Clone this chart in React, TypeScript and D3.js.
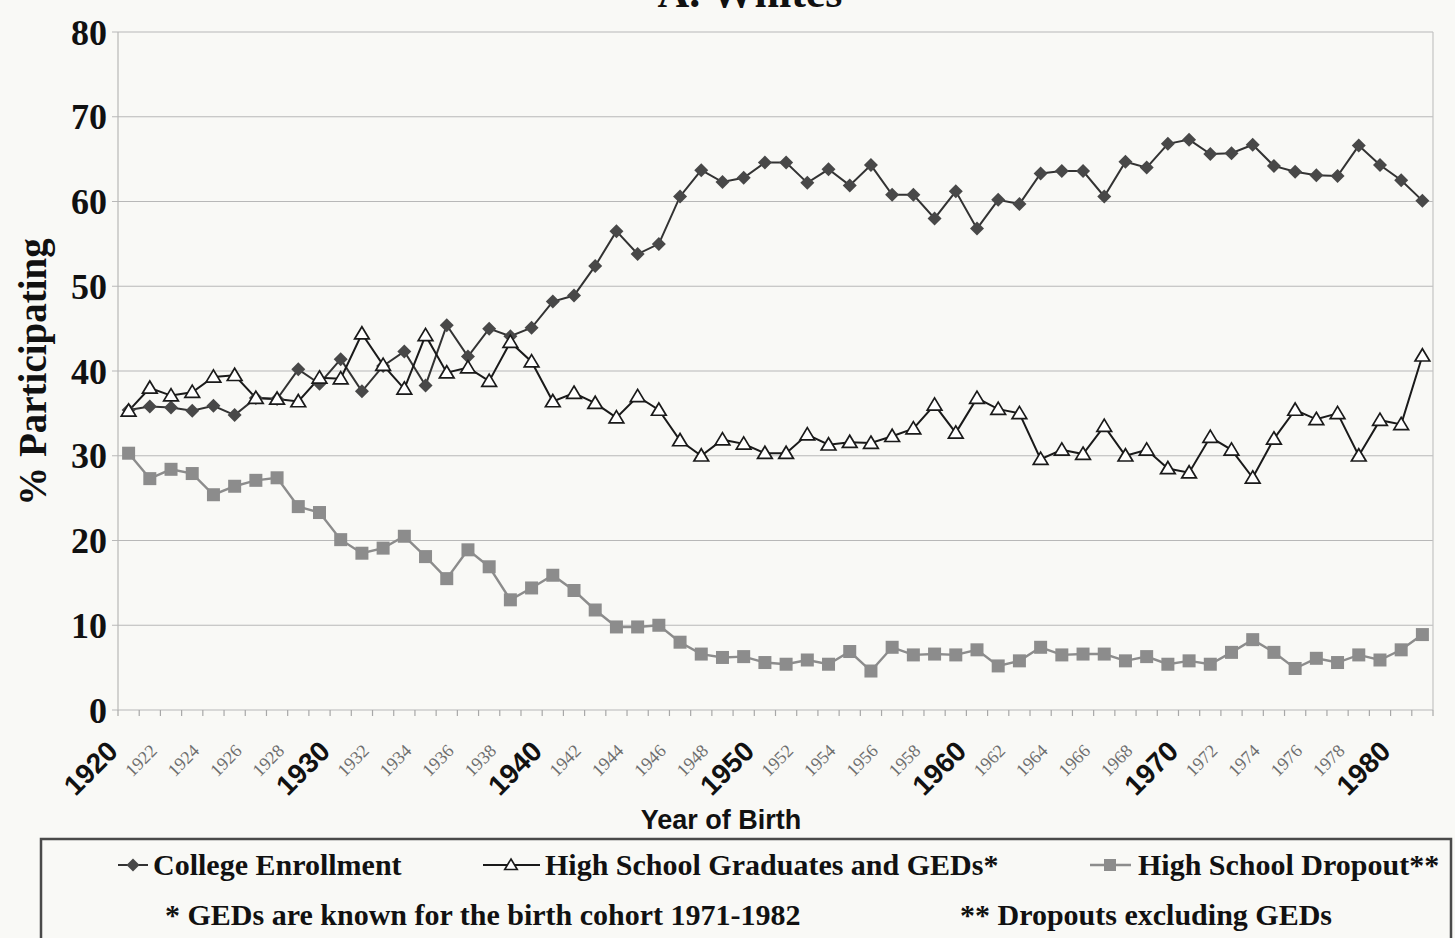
import React from "react";
import * as d3 from "d3";

const years: number[] = Array.from({ length: 62 }, (_, i) => 1920 + i);

const collegeEnrollment: number[] = [
  35.4, 35.8, 35.7, 35.3, 35.9, 34.8, 36.8, 36.7, 40.2, 38.5,
  41.4, 37.6, 40.6, 42.3, 38.3, 45.4, 41.7, 45.0, 44.1, 45.1,
  48.2, 48.9, 52.4, 56.5, 53.8, 55.0, 60.6, 63.7, 62.3, 62.8,
  64.6, 64.6, 62.2, 63.8, 61.9, 64.3, 60.8, 60.8, 58.0, 61.2,
  56.8, 60.2, 59.7, 63.3, 63.6, 63.6, 60.6, 64.7, 64.0, 66.8,
  67.3, 65.6, 65.7, 66.7, 64.2, 63.5, 63.1, 63.0, 66.6, 64.3,
  62.5, 60.1,
];

const hsGraduates: number[] = [
  35.3, 38.0, 37.1, 37.5, 39.3, 39.5, 36.8, 36.7, 36.4, 39.2,
  39.1, 44.4, 40.7, 37.9, 44.2, 39.8, 40.4, 38.8, 43.4, 41.1,
  36.4, 37.4, 36.2, 34.5, 37.0, 35.4, 31.8, 30.0, 31.9, 31.4,
  30.3, 30.3, 32.5, 31.3, 31.6, 31.5, 32.3, 33.2, 36.0, 32.7,
  36.8, 35.5, 35.0, 29.6, 30.7, 30.2, 33.5, 30.0, 30.7, 28.5,
  28.0, 32.2, 30.7, 27.4, 32.0, 35.4, 34.3, 35.0, 30.0, 34.2,
  33.7, 41.8,
];

const hsDropout: number[] = [
  30.3, 27.3, 28.4, 27.9, 25.4, 26.4, 27.1, 27.4, 24.0, 23.3,
  20.1, 18.5, 19.1, 20.5, 18.1, 15.5, 18.9, 16.9, 13.0, 14.4,
  15.9, 14.1, 11.8, 9.8, 9.8, 10.0, 8.0, 6.6, 6.2, 6.3,
  5.6, 5.4, 5.9, 5.4, 6.9, 4.6, 7.4, 6.5, 6.6, 6.5,
  7.1, 5.2, 5.8, 7.4, 6.5, 6.6, 6.6, 5.8, 6.3, 5.4,
  5.8, 5.4, 6.8, 8.3, 6.8, 4.9, 6.1, 5.6, 6.5, 5.9,
  7.1, 8.9,
];

const yTicks: number[] = [0, 10, 20, 30, 40, 50, 60, 70, 80];

const legendItems: string[] = [
  "College Enrollment",
  "High School Graduates and GEDs*",
  "High School Dropout**",
];
const footnotes: string[] = [
  "* GEDs are known for the birth cohort 1971-1982",
  "** Dropouts excluding GEDs",
];

const SERIF = "'Liberation Serif', 'Times New Roman', serif";
const SANS = "'Liberation Sans', Arial, sans-serif";
const BG = "#f9f9f6";

const diamond = (cx: number, cy: number, r: number) =>
  `M${cx},${cy - r}L${cx + r},${cy}L${cx},${cy + r}L${cx - r},${cy}Z`;
const triangle = (cx: number, cy: number, r: number) =>
  `M${cx},${cy - r}L${cx + r * 1.05},${cy + r * 0.75}L${cx - r * 1.05},${cy + r * 0.75}Z`;

export default function App() {
  const W = 1455;
  const H = 938;
  const left = 118;
  const right = 1433;
  const top = 32;
  const bottom = 710;

  const x = d3.scaleBand<number>().domain(years).range([left, right]).padding(0);
  const bw = x.bandwidth();
  const cx = (yr: number) => (x(yr) as number) + bw / 2;
  const y = d3.scaleLinear().domain([0, 80]).range([bottom, top]);

  const line = d3
    .line<number>()
    .x((_, i) => cx(years[i]))
    .y((d) => y(d));

  const boundaries = years.map((yr) => x(yr) as number).concat([right]);

  return (
    <svg
      width={W}
      height={H}
      style={{ position: "absolute", left: 0, top: 0, background: BG }}
    >
      <rect x={0} y={0} width={W} height={H} fill={BG} />
      {/* title (cut off at top, as in the original) */}
      <text
        x={750}
        y={7}
        textAnchor="middle"
        fontFamily={SERIF}
        fontWeight="bold"
        fontSize={44}
        fill="#111"
      >
        A. Whites
      </text>

      {/* gridlines */}
      {yTicks.map((t) => (
        <line
          key={"g" + t}
          x1={left - 6}
          x2={right}
          y1={y(t)}
          y2={y(t)}
          stroke="#b8b8b8"
          strokeWidth={1.2}
        />
      ))}
      <line x1={left} x2={left} y1={top} y2={bottom} stroke="#b8b8b8" strokeWidth={1.2} />
      <line x1={right} x2={right} y1={top} y2={bottom} stroke="#c4c4c4" strokeWidth={1.2} />

      {/* x ticks */}
      {boundaries.map((b, i) => (
        <line key={"t" + i} x1={b} x2={b} y1={bottom} y2={bottom + 6} stroke="#a8a8a8" strokeWidth={1.2} />
      ))}

      {/* y tick labels */}
      {yTicks.map((t) => (
        <text
          key={"yl" + t}
          x={107}
          y={y(t)}
          dy="0.35em"
          textAnchor="end"
          fontFamily={SERIF}
          fontWeight="bold"
          fontSize={36}
          fill="#111"
        >
          {t}
        </text>
      ))}

      {/* y axis title */}
      <text
        transform={`translate(46,372) rotate(-90)`}
        textAnchor="middle"
        fontFamily={SERIF}
        fontWeight="bold"
        fontSize={39}
        fill="#111"
      >
        % Participating
      </text>

      {/* x tick labels */}
      {years.map((yr) => {
        if (yr % 2 !== 0) return null;
        const major = yr % 10 === 0;
        const ax = cx(yr) - (major ? 9 : 13);
        const ay = major ? 753 : 752;
        return (
          <text
            key={"xl" + yr}
            transform={`translate(${ax},${ay}) rotate(-45)`}
            textAnchor="end"
            fontFamily={major ? SANS : SERIF}
            fontWeight={major ? "bold" : "normal"}
            fontSize={major ? 28 : 18}
            fill={major ? "#111" : "#6e6e6e"}
          >
            {yr}
          </text>
        );
      })}

      <text
        x={721}
        y={829}
        textAnchor="middle"
        fontFamily={SANS}
        fontWeight="bold"
        fontSize={27}
        fill="#111"
      >
        Year of Birth
      </text>

      {/* series lines */}
      <path d={line(hsDropout) || ""} fill="none" stroke="#8c8c8c" strokeWidth={2.4} />
      <path d={line(collegeEnrollment) || ""} fill="none" stroke="#333" strokeWidth={2} />
      <path d={line(hsGraduates) || ""} fill="none" stroke="#1a1a1a" strokeWidth={2} />

      {/* markers */}
      {hsDropout.map((v, i) => (
        <rect
          key={"d" + i}
          x={cx(years[i]) - 6.5}
          y={y(v) - 6.5}
          width={13}
          height={13}
          fill="#8c8c8c"
        />
      ))}
      {collegeEnrollment.map((v, i) => (
        <path key={"c" + i} d={diamond(cx(years[i]), y(v), 7)} fill="#484848" />
      ))}
      {hsGraduates.map((v, i) => (
        <path
          key={"h" + i}
          d={triangle(cx(years[i]), y(v), 7)}
          fill="#ffffff"
          stroke="#1a1a1a"
          strokeWidth={1.7}
        />
      ))}

      {/* legend */}
      <rect x={41} y={839} width={1410} height={130} fill={BG} stroke="#4a4a4a" strokeWidth={2.5} />
      <line x1={118} x2={148} y1={865} y2={865} stroke="#333" strokeWidth={2} />
      <path d={diamond(133, 865, 6.5)} fill="#484848" />
      <text x={153} y={875} fontFamily={SERIF} fontWeight="bold" fontSize={30} fill="#111">
        {legendItems[0]}
      </text>
      <line x1={483} x2={540} y1={865} y2={865} stroke="#1a1a1a" strokeWidth={2} />
      <path d={triangle(511, 865, 6)} fill="#fff" stroke="#1a1a1a" strokeWidth={1.6} />
      <text x={545} y={875} fontFamily={SERIF} fontWeight="bold" fontSize={30} fill="#111">
        {legendItems[1]}
      </text>
      <line x1={1090} x2={1131} y1={865} y2={865} stroke="#8c8c8c" strokeWidth={2.4} />
      <rect x={1104} y={859} width={12} height={12} fill="#8c8c8c" />
      <text x={1138} y={875} fontFamily={SERIF} fontWeight="bold" fontSize={30} fill="#111">
        {legendItems[2]}
      </text>
      <text x={165} y={925} fontFamily={SERIF} fontWeight="bold" fontSize={30} fill="#111">
        {footnotes[0]}
      </text>
      <text x={960} y={925} fontFamily={SERIF} fontWeight="bold" fontSize={30} fill="#111">
        {footnotes[1]}
      </text>
    </svg>
  );
}
